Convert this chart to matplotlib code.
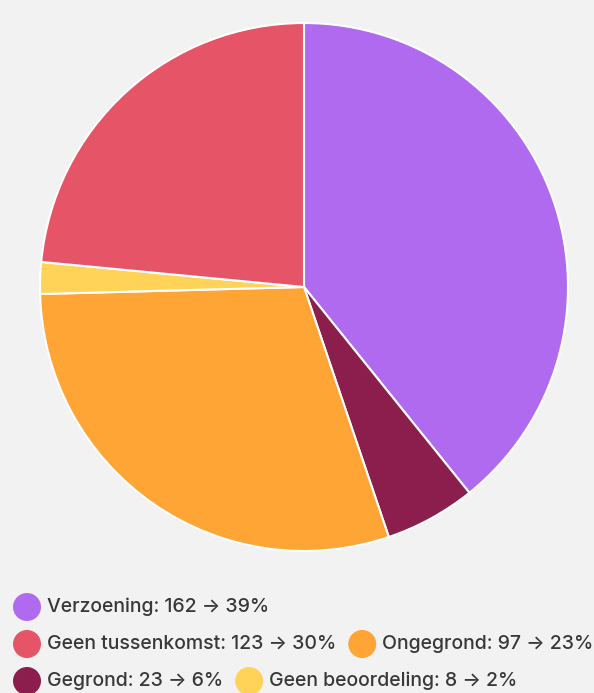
import matplotlib
matplotlib.use('Agg')
import matplotlib.pyplot as plt

labels = ['Verzoening', 'Geen tussenkomst', 'Ongegrond', 'Gegrond', 'Geen beoordeling']
counts = [162, 123, 97, 23, 8]
percents = [39, 30, 23, 6, 2]
colors = ['#b06af0', '#e55467', '#ffa535', '#8b1e4d', '#ffd357']

# wedges as drawn in the reference, clockwise from the top
# (the reference pairs the 30 % and 23 % wedges with swapped colours)
pie_values = [162, 23, 123, 8, 97]
pie_colors = ['#b06af0', '#8b1e4d', '#ffa535', '#ffd357', '#e55467']

# legend rows, as index lists into labels/counts
legend_rows = [[0], [1, 2], [3, 4]]

plt.rcParams['font.family'] = ['Inter', 'DejaVu Sans']

W, H = 594, 693
fig = plt.figure(figsize=(W / 100, H / 100), dpi=100)
fig.patch.set_facecolor('#f2f2f2')

# pie: centre (304, 287) px, radius 264 px
cx, cy, r = 304, 287, 264
ax = fig.add_axes([(cx - r) / W, 1 - (cy + r) / H, 2 * r / W, 2 * r / H])
ax.pie(pie_values, colors=pie_colors, startangle=90, counterclock=False,
       wedgeprops=dict(edgecolor='white', linewidth=1.5))
ax.set_xlim(-1, 1)
ax.set_ylim(-1, 1)
ax.set_aspect('equal')
ax.axis('off')

# manual legend
fig.canvas.draw()
renderer = fig.canvas.get_renderer()
row_y = [607, 644, 681]
for row, y in zip(legend_rows, row_y):
    x = 13
    for i in row:
        fig.patches.append(matplotlib.patches.Ellipse(
            ((x + 14) / W, 1 - y / H), 28 / W, 28 / H,
            transform=fig.transFigure, facecolor=colors[i], edgecolor='none'))
        t = fig.text((x + 34) / W, 1 - y / H,
                     f'{labels[i]}: {counts[i]} \u2192 {percents[i]}%',
                     fontsize=14, fontweight='medium', color='#383838',
                     va='center', ha='left')
        bb = t.get_window_extent(renderer)
        x = bb.x1 + 12

fig.savefig('out.png', dpi=100, facecolor=fig.get_facecolor())
